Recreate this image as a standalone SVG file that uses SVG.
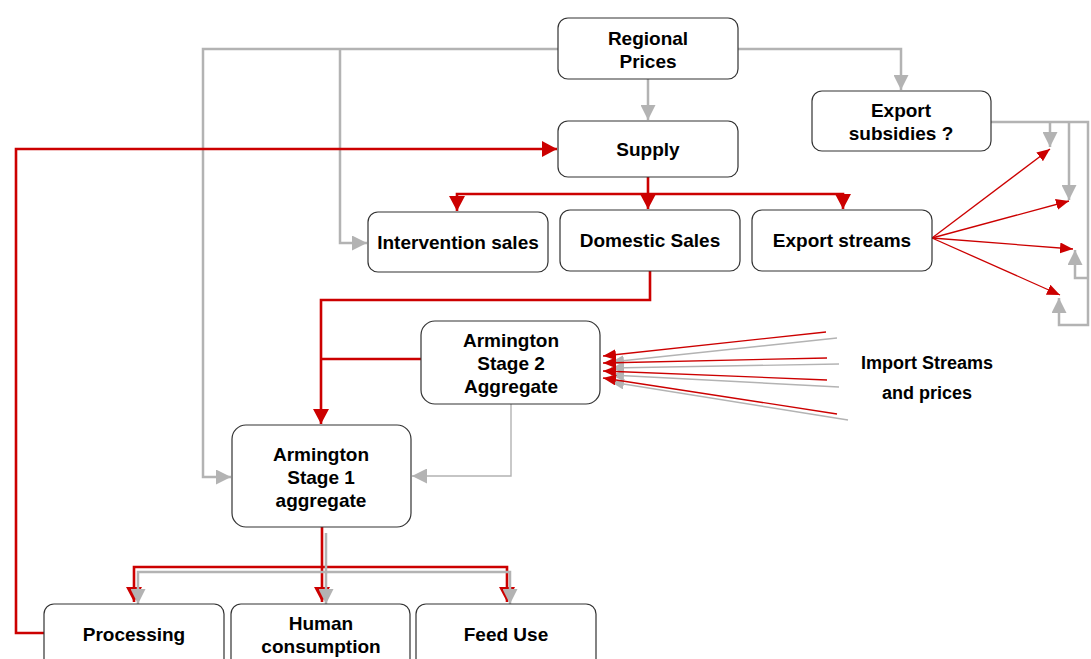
<svg xmlns="http://www.w3.org/2000/svg" width="1091" height="659" viewBox="0 0 1091 659">
<style>
.box{fill:#fff;stroke:#333;stroke-width:1.2}
.t{font-family:"Liberation Sans",Arial,sans-serif;font-weight:bold;font-size:19px;fill:#000;text-anchor:middle}
.g{fill:none;stroke:#b3b3b3;stroke-width:2.5}
.gt{fill:none;stroke:#b3b3b3;stroke-width:1.4}
.r{fill:none;stroke:#cc0000;stroke-width:2.6}
.rt{fill:none;stroke:#cc0000;stroke-width:1.3}
</style>
<defs>
<marker id="ag" markerUnits="userSpaceOnUse" markerWidth="16" markerHeight="15" refX="15" refY="7.5" orient="auto"><path d="M0,0 L15,7.5 L0,15 z" fill="#b3b3b3"/></marker>
<marker id="ar" markerUnits="userSpaceOnUse" markerWidth="15" markerHeight="16" refX="15" refY="8" orient="auto"><path d="M0,0 L15,8 L0,16 z" fill="#cc0000"/></marker>
<marker id="art" markerUnits="userSpaceOnUse" markerWidth="13" markerHeight="11" refX="13" refY="5.5" orient="auto"><path d="M0,0 L13,5.5 L0,11 z" fill="#cc0000"/></marker>
<marker id="agt" markerUnits="userSpaceOnUse" markerWidth="13" markerHeight="11" refX="13" refY="5.5" orient="auto"><path d="M0,0 L13,5.5 L0,11 z" fill="#b3b3b3"/></marker>
</defs>
<g id="connectors">
<path class="g" d="M558,49 H203 V477 H231" marker-end="url(#ag)"/>
<path class="g" d="M340,49 V243 H367" marker-end="url(#ag)"/>
<path class="g" d="M648,79 V120" marker-end="url(#ag)"/>
<path class="g" d="M738,49 H901 V90" marker-end="url(#ag)"/>
<path class="g" d="M991,122 H1088 V325 H1059 V298" marker-end="url(#ag)"/>
<path class="g" d="M1050,122 V147" marker-end="url(#ag)"/>
<path class="g" d="M1069,122 V200" marker-end="url(#ag)"/>
<path class="g" d="M1088,278 H1075 V250" marker-end="url(#ag)"/>
<path class="r" d="M648,177 V194 H457 V211" marker-end="url(#ar)"/>
<path class="r" d="M648,194 V209" marker-end="url(#ar)"/>
<path class="r" d="M648,194 H843 V209" marker-end="url(#ar)"/>
<path class="r" d="M44,633 H16 V149 H557" marker-end="url(#ar)"/>
<path class="r" d="M650,271 V300 H321 V424" marker-end="url(#ar)"/>
<path class="r" d="M421,359 H321"/>
<path class="gt" d="M511,404 V476 H412" marker-end="url(#ag)"/>
<path class="rt" d="M932,238 L1050,149" marker-end="url(#art)"/>
<path class="rt" d="M932,238 L1069,201" marker-end="url(#art)"/>
<path class="rt" d="M932,238 L1073,249" marker-end="url(#art)"/>
<path class="rt" d="M932,238 L1060,295" marker-end="url(#art)"/>
<path class="gt" d="M837,338 L611,362" marker-end="url(#agt)"/>
<path class="gt" d="M839,364 L611,368" marker-end="url(#agt)"/>
<path class="gt" d="M839,387 L611,375" marker-end="url(#agt)"/>
<path class="gt" d="M848,420 L611,382" marker-end="url(#agt)"/>
<path class="rt" d="M826,332 L603,356" marker-end="url(#art)"/>
<path class="rt" d="M827,358 L603,363" marker-end="url(#art)"/>
<path class="rt" d="M827,380 L603,371" marker-end="url(#art)"/>
<path class="rt" d="M837,414 L603,378" marker-end="url(#art)"/>
<path class="r" d="M322,527 V567 H134 V602" marker-end="url(#ar)"/>
<path class="r" d="M322,567 V602" marker-end="url(#ar)"/>
<path class="r" d="M322,567 H507 V602" marker-end="url(#ar)"/>
<path class="g" d="M326,533 V572 H138 V604" marker-end="url(#ag)"/>
<path class="g" d="M326,572 V604" marker-end="url(#ag)"/>
<path class="g" d="M326,572 H510 V604" marker-end="url(#ag)"/>
</g>
<g id="regional-prices"><rect class="box" x="558" y="18" width="180" height="61" rx="10"/><text class="t" x="648" y="45">Regional</text><text class="t" x="648" y="68">Prices</text></g>
<g id="supply"><rect class="box" x="558" y="121" width="180" height="56" rx="10"/><text class="t" x="648" y="156">Supply</text></g>
<g id="export-subsidies"><rect class="box" x="812" y="91" width="179" height="60" rx="10"/><text class="t" x="901" y="117">Export</text><text class="t" x="901" y="140">subsidies ?</text></g>
<g id="intervention-sales"><rect class="box" x="368" y="212" width="180" height="60" rx="10"/><text class="t" x="458" y="249">Intervention sales</text></g>
<g id="domestic-sales"><rect class="box" x="560" y="210" width="180" height="61" rx="10"/><text class="t" x="650" y="247">Domestic Sales</text></g>
<g id="export-streams"><rect class="box" x="752" y="210" width="180" height="61" rx="10"/><text class="t" x="842" y="247">Export streams</text></g>
<g id="armington-2"><rect class="box" x="421" y="321" width="179" height="83" rx="14"/><text class="t" x="511" y="347">Armington</text><text class="t" x="511" y="370">Stage 2</text><text class="t" x="511" y="393">Aggregate</text></g>
<g id="armington-1"><rect class="box" x="232" y="425" width="179" height="102" rx="14"/><text class="t" x="321" y="461">Armington</text><text class="t" x="321" y="484">Stage 1</text><text class="t" x="321" y="507">aggregate</text></g>
<g id="processing"><rect class="box" x="44" y="604" width="180" height="70" rx="10"/><text class="t" x="134" y="641">Processing</text></g>
<g id="human-consumption"><rect class="box" x="231" y="604" width="179" height="70" rx="10"/><text class="t" x="321" y="630">Human</text><text class="t" x="321" y="653">consumption</text></g>
<g id="feed-use"><rect class="box" x="416" y="604" width="180" height="70" rx="10"/><text class="t" x="506" y="641">Feed Use</text></g>
<g id="import-streams"><text class="t" x="927" y="369" style="font-size:18px">Import Streams</text><text class="t" x="927" y="399" style="font-size:18px">and prices</text></g>
</svg>
